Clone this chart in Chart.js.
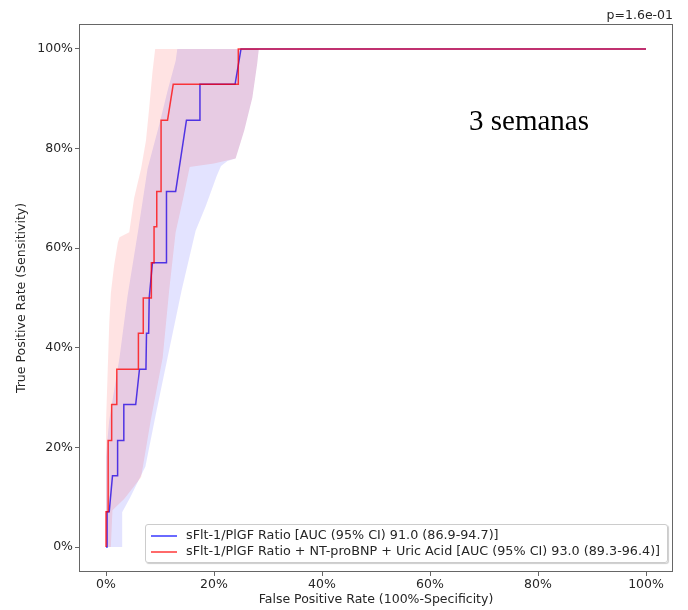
<!DOCTYPE html>
<html>
<head>
<meta charset="utf-8">
<script src="https://cdn.jsdelivr.net/npm/chart.js@4.4.1/dist/chart.umd.min.js"></script>
<style>
  html, body { margin: 0; padding: 0; background: #fff; }
  #wrap { position: relative; width: 688px; height: 610px; }
  #legend {
    position: absolute; left: 145px; top: 524px; width: 521px; height: 37px;
    border: 1px solid #cccccc; border-radius: 3px; background: rgba(255,255,255,0.85);
    box-shadow: 1px 1px 1px rgba(0,0,0,0.2);
    font-family: 'DejaVu Sans', sans-serif; font-size: 12.75px; color: #262626;
  }
  .row { position: absolute; left: 5px; height: 16px; line-height: 16px; white-space: nowrap; }
  .swatch { display: inline-block; width: 26px; height: 2px; vertical-align: middle; margin-right: 9px; }
  #semanas { position: absolute; left: 469px; top: 104px; font-family: 'Liberation Serif', serif; font-size: 29px; color: #000; }
  #pval { position: absolute; right: 15px; top: 7px; font-family: 'DejaVu Sans', sans-serif; font-size: 12.5px; color: #262626; }
</style>
</head>
<body>
<div id="wrap">
  <canvas id="roc" width="688" height="610"></canvas>
  <div id="pval">p=1.6e-01</div>
  <div id="semanas">3 semanas</div>
  <div id="legend">
    <div class="row" style="top:2px"><span class="swatch" style="background-color:#6a6aff"></span>sFlt-1/PlGF Ratio [AUC (95% CI) 91.0 (86.9-94.7)]</div>
    <div class="row" style="top:18px"><span class="swatch" style="background-color:#ff6a6a"></span>sFlt-1/PlGF Ratio + NT-proBNP + Uric Acid [AUC (95% CI) 93.0 (89.3-96.4)]</div>
  </div>
</div>
<script>
// ROC curves, values in percent
const blueFpr = [0, 0.2, 0.2, 0.6, 1.2, 2.15, 2.15, 3.3, 3.3, 5.5, 6.2, 7.4, 7.5, 7.9, 8.0, 8.6, 11.2, 11.2, 12.9, 14.9, 17.4, 17.4, 23.9, 25.0, 100]
const blueTpr = [0, 0, 7.1, 7.1, 14.3, 14.3, 21.4, 21.4, 28.6, 28.6, 35.7, 35.7, 42.9, 42.9, 50, 57.1, 57.1, 71.4, 71.4, 85.7, 85.7, 92.9, 92.9, 100, 100]

const redFpr = [0, 0, 0.4, 0.4, 1.05, 1.05, 2.0, 2.0, 6.0, 6.0, 6.9, 6.9, 8.4, 8.4, 8.9, 8.9, 9.4, 9.4, 10.2, 10.2, 11.4, 12.45, 24.5, 24.5, 100]
const redTpr = [0, 7.1, 7.1, 21.4, 21.4, 28.6, 28.6, 35.7, 35.7, 42.9, 42.9, 50, 50, 57.1, 57.1, 64.3, 64.3, 71.4, 71.4, 85.7, 85.7, 92.9, 92.9, 100, 100]

// confidence bands
const blueUpperFpr = [0, 0.3, 0.6, 2.5, 4.0, 5.9, 7.7, 9.9, 11.4, 12.9, 13.2, 100]
const blueUpperTpr = [18, 22, 25.5, 38, 50.5, 63.2, 76, 85, 91.6, 97.6, 100, 100]
const blueLowerFpr = [0, 3.0, 3.0, 4.5, 7.3, 9.2, 11.4, 14, 16.6, 18.5, 20.5, 21.3, 22.5, 24, 25.6, 27.1, 28, 28.3, 100]
const blueLowerTpr = [0, 0, 7, 10, 16.2, 26.5, 38, 51.5, 63.5, 68.5, 74.5, 76.5, 77.5, 78, 83.6, 90.2, 97, 100, 100]

const redUpperFpr = [0, 0.3, 0.6, 0.9, 1.5, 2.2, 2.5, 4.3, 5.2, 6.5, 7.4, 8.0, 8.6, 9.1, 100]
const redUpperTpr = [25, 35, 45, 51, 56.5, 61.2, 62.2, 63.2, 70, 76, 81.6, 88.2, 95.3, 100, 100]
const redLowerFpr = [0, 0.9, 1.2, 3.4, 6.5, 8.3, 10.5, 11.7, 12.9, 14.3, 15.5, 20, 24, 25.6, 27.1, 28, 28.3, 100]
const redLowerTpr = [0, 0, 7.4, 9.7, 14, 25.5, 38, 51.5, 63.2, 70, 76.3, 77, 78, 83.6, 90.2, 97, 100, 100]

const xTicks = [0, 20, 40, 60, 80, 100]
const yTicks = [0, 20, 40, 60, 80, 100]

const toPoints = (xs, ys) => xs.map((x, i) => ({x: x, y: ys[i]}))
const band = (ux, uy, lx, ly) => toPoints(ux, uy).concat(toPoints(lx, ly).reverse())

const frame = {
  id: 'frame',
  afterDraw(chart) {
    const a = chart.chartArea
    const ctx = chart.ctx
    ctx.save()
    ctx.strokeStyle = '#666'
    ctx.lineWidth = 1
    ctx.strokeRect(Math.round(a.left) + 0.5, Math.round(a.top) + 0.5, Math.round(a.right - a.left) - 1, Math.round(a.bottom - a.top) - 1)
    ctx.restore()
  }
}

Chart.defaults.font.family = "'DejaVu Sans', sans-serif"
Chart.defaults.font.size = 12.5
Chart.defaults.color = '#262626'

const tickFont = {size: 12.5}

new Chart(document.getElementById('roc'), {
  type: 'line',
  data: {
    datasets: [
      {
        data: band(blueUpperFpr, blueUpperTpr, blueLowerFpr, blueLowerTpr),
        borderWidth: 0, pointRadius: 0, fill: 'shape',
        backgroundColor: 'rgba(0,0,255,0.11)', order: 4
      },
      {
        data: toPoints(blueFpr, blueTpr),
        borderColor: 'rgba(0,0,255,0.75)', borderWidth: 1.5, pointRadius: 0, fill: false, order: 3
      },
      {
        data: band(redUpperFpr, redUpperTpr, redLowerFpr, redLowerTpr),
        borderWidth: 0, pointRadius: 0, fill: 'shape',
        backgroundColor: 'rgba(255,0,0,0.11)', order: 2
      },
      {
        data: toPoints(redFpr, redTpr),
        borderColor: 'rgba(255,0,0,0.75)', borderWidth: 1.5, pointRadius: 0, fill: false, order: 1
      }
    ]
  },
  options: {
    responsive: false,
    devicePixelRatio: 1,
    animation: false,
    layout: {padding: {top: 24, right: 15, bottom: 0, left: 0}},
    elements: {line: {tension: 0}},
    plugins: {legend: {display: false}, tooltip: {enabled: false}},
    scales: {
      x: {
        type: 'linear', min: -5, max: 105,
        afterBuildTicks: axis => { axis.ticks = xTicks.map(v => ({value: v})) },
        afterFit: axis => { axis.height = 38 },
        ticks: {callback: v => v + '%', font: tickFont, padding: 1, maxRotation: 0},
        grid: {drawOnChartArea: false, drawTicks: true, tickLength: 4, color: '#666'},
        border: {display: false},
        title: {display: true, text: 'False Positive Rate (100%-Specificity)', font: tickFont, padding: {top: 0, bottom: 3}}
      },
      y: {
        type: 'linear', min: -5, max: 105,
        afterBuildTicks: axis => { axis.ticks = yTicks.map(v => ({value: v})) },
        afterFit: axis => { axis.width = 79 },
        ticks: {callback: v => v + '%', font: tickFont, padding: 2},
        grid: {drawOnChartArea: false, drawTicks: true, tickLength: 4, color: '#666'},
        border: {display: false},
        title: {display: true, text: 'True Positive Rate (Sensitivity)', font: tickFont, padding: {top: 14, bottom: 0}}
      }
    }
  },
  plugins: [frame]
})
</script>
</body>
</html>
